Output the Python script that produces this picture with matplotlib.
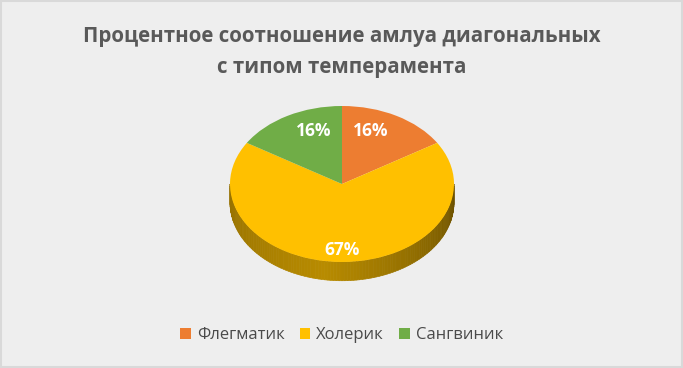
import matplotlib
matplotlib.use("Agg")
import matplotlib.pyplot as plt
import numpy as np
from matplotlib.patches import Rectangle, Polygon, Patch

categories = ["Флегматик", "Холерик", "Сангвиник"]
values = [16, 67, 16]
colors = ["#ED7D31", "#FFC000", "#70AD47"]
title = "Процентное соотношение амлуа диагональных\nс типом темперамента"

plt.rcParams['font.family'] = ['Open Sans', 'DejaVu Sans']
plt.rcParams['hatch.linewidth'] = 1.3

W, H = 683, 368
fig = plt.figure(figsize=(W / 100, H / 100), dpi=100)
fig.patch.set_facecolor('white')

# background with diagonal texture and border
bg = Rectangle((0, 0), 1, 1, transform=fig.transFigure, facecolor='white',
               edgecolor='#eeeeee', linewidth=0, hatch='\\' * 20, zorder=-10)
fig.patches.append(bg)
border = Rectangle((1 / W, 1 / H), 1 - 2 / W, 1 - 2 / H, transform=fig.transFigure,
                   facecolor='none', edgecolor='#d9d9d9', linewidth=1.5, zorder=10)
fig.patches.append(border)

fig.text(0.5, 1 - 52 / H, title, ha='center', va='center', fontsize=14.8,
         fontweight='bold', color='#595959', linespacing=1.65)

# pie axes: horizontal radius 112px, vertical radius 78px, center at (342, 184)
cx, cy = 342, 184
rx, ry = 112, 78
aw, ah = 300, 240
ax = fig.add_axes([(cx - aw / 2) / W, (H - cy - ah / 2) / H, aw / W, ah / H])
xl = aw / 2 / rx
yl = ah / 2 / ry

depth = 0.24
# side wall (front half), drawn as shaded strips
n = 120
angles = np.linspace(np.pi, 2 * np.pi, n + 1)
dark = np.array([0x6b, 0x50, 0x00]) / 255
mid = np.array([0xb8, 0x8b, 0x00]) / 255
left = np.array([0x95, 0x70, 0x00]) / 255
for i in range(n):
    a0, a1 = angles[i], angles[i + 1]
    t = (i + 0.5) / n
    if t < 0.45:
        c = left + (mid - left) * (t / 0.45)
    else:
        c = mid + (dark - mid) * ((t - 0.45) / 0.55)
    pts = [(np.cos(a0), np.sin(a0)), (np.cos(a1), np.sin(a1)),
           (np.cos(a1), np.sin(a1) - depth), (np.cos(a0), np.sin(a0) - depth)]
    ax.add_patch(Polygon(pts, closed=True, facecolor=c, edgecolor=c, linewidth=0.5, zorder=1))

total = sum(values)
wedges, texts, autotexts = ax.pie(values, colors=colors, startangle=90, counterclock=False,
                                  autopct=lambda p: f"{round(p * total / 100):.0f}%",
                                  pctdistance=0.75,
                                  wedgeprops=dict(linewidth=0),
                                  textprops=dict(color='white', fontsize=12.5, fontweight='bold'))
for w in wedges:
    w.set_zorder(2)
for t in autotexts:
    t.set_zorder(3)
# nudge labels toward reference placement
x0, y0 = autotexts[0].get_position()
autotexts[0].set_position((x0 * 0.7, y0 + 0.03))
x2, y2 = autotexts[2].get_position()
autotexts[2].set_position((x2 * 0.7, y2 + 0.03))
x1, y1 = autotexts[1].get_position()
autotexts[1].set_position((x1, y1 - 0.1))

ax.set_aspect('auto')
ax.set_xlim(-xl, xl)
ax.set_ylim(-yl, yl)
ax.axis('off')

handles = [Patch(facecolor=c, edgecolor='none') for c in colors]
leg = fig.legend(handles, categories, loc='center', bbox_to_anchor=(0.5, 1 - 335 / H),
                 ncol=3, frameon=False, fontsize=12, handlelength=0.65, handleheight=0.65,
                 handletextpad=0.35, columnspacing=0.9)
for t in leg.get_texts():
    t.set_color('#4a4a4a')

fig.savefig('out.png', dpi=100)
